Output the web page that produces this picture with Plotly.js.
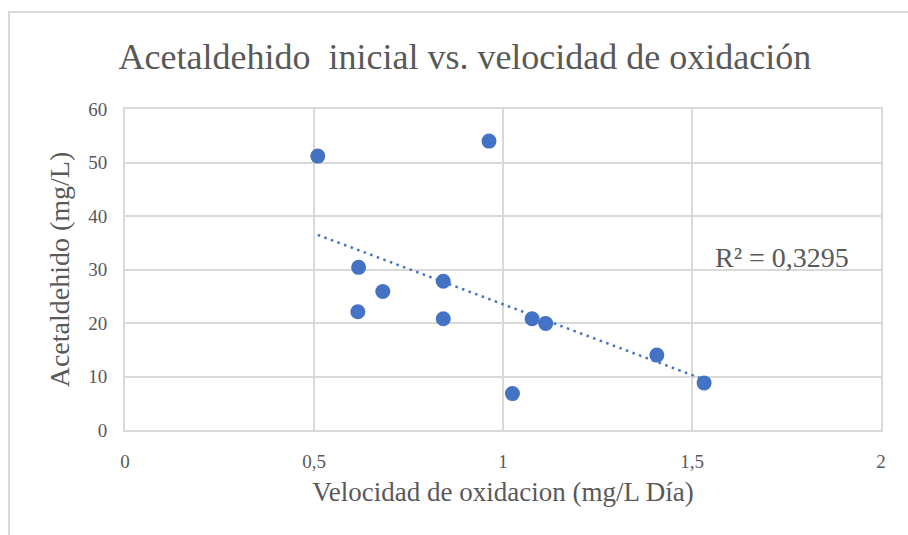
<!DOCTYPE html>
<html>
<head>
<meta charset="utf-8">
<script src="https://cdn.plot.ly/plotly-3.0.1.min.js"></script>
<style>
  html, body { margin: 0; padding: 0; background: #ffffff; }
  #wrap { position: relative; width: 908px; height: 535px; overflow: hidden; }
  #chart { width: 908px; height: 535px; }
  #frame { position: absolute; left: 8px; top: 11px; width: 920px; height: 540px;
           border-left: 2px solid #d9d9d9; border-top: 2px solid #d9d9d9; pointer-events: none; }
</style>
</head>
<body>
<div id="wrap">
  <div id="chart"></div>
  <div id="frame"></div>
</div>
<script>
// Data
const velocidad = [0.510, 0.963, 0.618, 0.842, 0.682, 0.616, 0.842, 1.077, 1.113, 1.407, 1.532, 1.025];
const acetaldehido = [51.2, 54.0, 30.4, 27.8, 25.9, 22.1, 20.8, 20.8, 19.9, 14.0, 8.8, 6.8];
const xTickVals = [0, 0.5, 1, 1.5, 2];
const yTickVals = [0, 10, 20, 30, 40, 50, 60];
const r2Label = "R² = 0,3295";

// Linear least-squares trendline from the data
const n = velocidad.length;
const mx = velocidad.reduce((a, b) => a + b, 0) / n;
const my = acetaldehido.reduce((a, b) => a + b, 0) / n;
let sxy = 0, sxx = 0;
for (let i = 0; i < n; i++) {
  sxy += (velocidad[i] - mx) * (acetaldehido[i] - my);
  sxx += (velocidad[i] - mx) * (velocidad[i] - mx);
}
const slope = sxy / sxx;
const intercept = my - slope * mx;
const xMin = Math.min(...velocidad), xMax = Math.max(...velocidad);
const trendX = [xMin, xMax];
const trendY = trendX.map(x => intercept + slope * x);

const blue = '#4472c4';
const textColor = '#595959';
const gridColor = '#d9d9d9';
const serif = '"Liberation Serif", "Times New Roman", serif';

const traces = [
  {
    x: trendX, y: trendY, type: 'scatter', mode: 'lines',
    line: { color: blue, width: 2.5, dash: '2.5px,4.5px' },
    hoverinfo: 'skip', showlegend: false
  },
  {
    x: velocidad, y: acetaldehido, type: 'scatter', mode: 'markers',
    marker: { color: blue, size: 15 },
    showlegend: false
  }
];

const layout = {
  width: 908, height: 535,
  margin: { l: 125, r: 27, t: 109, b: 105, pad: 0 },
  paper_bgcolor: '#ffffff', plot_bgcolor: '#ffffff',
  separators: ',.',
  font: { family: serif, color: textColor, size: 18 },
  title: {
    text: 'Acetaldehido  inicial vs. velocidad de oxidación',
    font: { family: serif, size: 36, color: textColor },
    x: 0.512, xanchor: 'center', y: 0.895, yanchor: 'middle', xref: 'container', yref: 'container'
  },
  xaxis: {
    range: [0, 2], tickvals: xTickVals, ticks: '',
    showgrid: true, gridcolor: gridColor, gridwidth: 2,
    showline: true, linecolor: gridColor, linewidth: 2, mirror: true,
    zeroline: false, ticklabelstandoff: 13,
    tickfont: { family: serif, size: 19, color: textColor },
    title: { text: 'Velocidad de oxidacion (mg/L Día)', standoff: 11,
             font: { family: serif, size: 27, color: textColor } },
    fixedrange: true
  },
  yaxis: {
    range: [0, 60], tickvals: yTickVals, ticks: '',
    showgrid: true, gridcolor: gridColor, gridwidth: 2,
    showline: true, linecolor: gridColor, linewidth: 2, mirror: true,
    zeroline: false, ticklabelstandoff: 12,
    tickfont: { family: serif, size: 19, color: textColor },
    title: { text: 'Acetaldehido (mg/L)', standoff: 10,
             font: { family: serif, size: 28, color: textColor } },
    fixedrange: true
  },
  annotations: [
    { x: 1.555, y: 32.3, xref: 'x', yref: 'y', text: r2Label, showarrow: false,
      xanchor: 'left', yanchor: 'middle',
      font: { family: serif, size: 28, color: textColor } }
  ]
};

Plotly.newPlot('chart', traces, layout, { displayModeBar: false, staticPlot: true });
</script>
</body>
</html>
